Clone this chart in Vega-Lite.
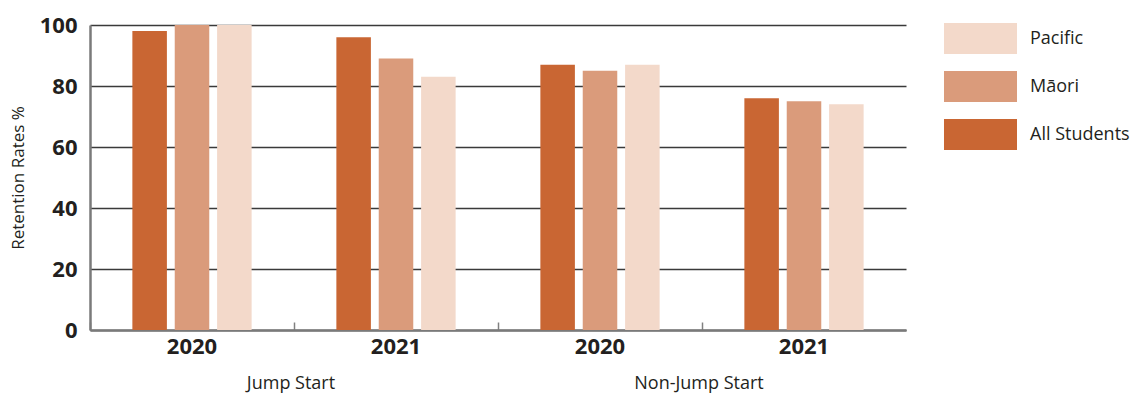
{
  "$schema": "https://vega.github.io/schema/vega-lite/v6.json",
  "width": 816,
  "height": 305,
  "autosize": {"type": "none"},
  "padding": {"left": 90, "top": 25, "right": 226, "bottom": 69},
  "background": "white",
  "config": {
    "font": "Open Sans",
    "view": {"stroke": null}
  },
  "layer": [
    {
      "data": {"values": [
        {"group": "Jump Start 2020", "series": "All Students", "value": 98},
        {"group": "Jump Start 2020", "series": "Māori", "value": 100},
        {"group": "Jump Start 2020", "series": "Pacific", "value": 100},
        {"group": "Jump Start 2021", "series": "All Students", "value": 96},
        {"group": "Jump Start 2021", "series": "Māori", "value": 89},
        {"group": "Jump Start 2021", "series": "Pacific", "value": 83},
        {"group": "Non-Jump Start 2020", "series": "All Students", "value": 87},
        {"group": "Non-Jump Start 2020", "series": "Māori", "value": 85},
        {"group": "Non-Jump Start 2020", "series": "Pacific", "value": 87},
        {"group": "Non-Jump Start 2021", "series": "All Students", "value": 76},
        {"group": "Non-Jump Start 2021", "series": "Māori", "value": 75},
        {"group": "Non-Jump Start 2021", "series": "Pacific", "value": 74}
      ]},
      "mark": {"type": "bar"},
      "encoding": {
        "x": {
          "field": "group",
          "type": "nominal",
          "scale": {"domain": ["Jump Start 2020", "Jump Start 2021", "Non-Jump Start 2020", "Non-Jump Start 2021"], "paddingInner": 0, "paddingOuter": 0},
          "axis": {
            "title": null,
            "labels": false,
            "bandPosition": 0,
            "ticks": true,
            "tickSize": -8,
            "tickColor": "#808080",
            "tickWidth": 1.5,
            "domainColor": "#7a7a7a",
            "domainWidth": 2.5,
            "grid": false
          }
        },
        "xOffset": {
          "field": "series",
          "type": "nominal",
          "sort": ["All Students", "Māori", "Pacific"],
          "scale": {"paddingInner": 0.185, "paddingOuter": 1.11}
        },
        "y": {
          "field": "value",
          "type": "quantitative",
          "scale": {"domain": [0, 100], "nice": false},
          "axis": {
            "title": "Retention Rates %",
            "titleFontSize": 17,
            "titleFontWeight": "normal",
            "titleColor": "#231f20",
            "titlePadding": 12,
            "values": [0, 20, 40, 60, 80, 100],
            "labelFontSize": 22,
            "labelFontWeight": "bold",
            "labelColor": "#231f20",
            "labelPadding": 13,
            "ticks": false,
            "domainColor": "#7a7a7a",
            "domainWidth": 2.5,
            "grid": true,
            "gridColor": "#3a3a3a",
            "gridWidth": 1.3
          }
        },
        "color": {
          "field": "series",
          "type": "nominal",
          "scale": {
            "domain": ["Pacific", "Māori", "All Students"],
            "range": ["#f3d9ca", "#da9b7b", "#c96633"]
          },
          "legend": {
            "title": null,
            "orient": "right",
            "offset": 61,
            "padding": -3,
            "symbolType": "M-2.355,-1H2.355V1H-2.355Z",
            "symbolSize": 961,
            "labelFontSize": 18,
            "labelColor": "#231f20",
            "labelOffset": 33,
            "rowPadding": 16
          }
        }
      }
    },
    {
      "data": {"values": [
        {"group": "Jump Start 2020", "year": "2020"},
        {"group": "Jump Start 2021", "year": "2021"},
        {"group": "Non-Jump Start 2020", "year": "2020"},
        {"group": "Non-Jump Start 2021", "year": "2021"}
      ]},
      "mark": {"type": "text", "fontSize": 22, "fontWeight": "bold", "color": "#231f20", "baseline": "top", "dy": 7},
      "encoding": {
        "x": {"field": "group", "type": "nominal"},
        "y": {"datum": 0, "type": "quantitative"},
        "text": {"field": "year"}
      }
    },
    {
      "data": {"values": [
        {"group": "Jump Start 2021", "label": "Jump Start"},
        {"group": "Non-Jump Start 2021", "label": "Non-Jump Start"}
      ]},
      "mark": {"type": "text", "fontSize": 18, "color": "#231f20", "baseline": "top", "dy": 45, "dx": -3},
      "encoding": {
        "x": {"field": "group", "type": "nominal", "bandPosition": 0},
        "y": {"datum": 0, "type": "quantitative"},
        "text": {"field": "label"}
      }
    }
  ]
}
